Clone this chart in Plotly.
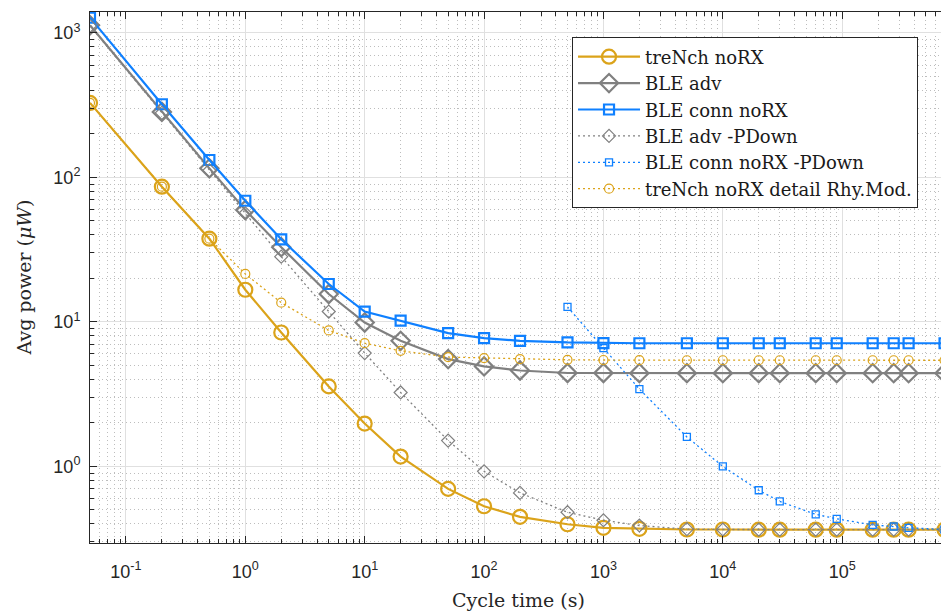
import math
import plotly.graph_objects as go

# ---- data ----
cycle_time = [0.05, 0.2, 0.5, 1, 2, 5, 10, 20, 50, 100, 200, 500, 1000, 2000,
              5000, 1e4, 2e4, 3e4, 6e4, 9e4, 1.8e5, 2.7e5, 3.6e5, 7.2e5]

trench_norx = [328, 86.3, 37.7, 16.7, 8.45, 3.58, 1.98, 1.17, 0.699, 0.53, 0.448,
               0.398, 0.376, 0.370, 0.366, 0.366, 0.365, 0.365, 0.365, 0.365,
               0.365, 0.365, 0.365, 0.365]
ble_adv = [1130, 284, 115.6, 59.5, 32.9, 15.6, 9.91, 7.40, 5.53, 4.92, 4.61,
           4.43, 4.43, 4.42, 4.42, 4.42, 4.42, 4.42, 4.42, 4.42, 4.42, 4.42,
           4.42, 4.42]
ble_conn_norx = [1277, 321, 132, 69.0, 37.3, 18.3, 11.8, 10.2, 8.36, 7.72, 7.40,
                 7.21, 7.13, 7.12, 7.12, 7.12, 7.12, 7.12, 7.12, 7.12, 7.12,
                 7.12, 7.12, 7.12]
ble_adv_pdown = [1120, 280, 112, 56.5, 28.3, 11.8, 6.09, 3.25, 1.51, 0.925,
                 0.656, 0.482, 0.424, 0.390, 0.368, 0.366, 0.365, 0.365, 0.365,
                 0.365, 0.365, 0.365, 0.365, 0.365]
conn_pdown_time = [500, 1000, 2000, 5000, 1e4, 2e4, 3e4, 6e4, 9e4, 1.8e5,
                   2.7e5, 3.6e5, 7.2e5]
ble_conn_norx_pdown = [12.7, 6.59, 3.43, 1.60, 1.0, 0.684, 0.572, 0.466, 0.434,
                       0.394, 0.384, 0.376, 0.366]
trench_detail = [328, 86.3, 37.7, 21.5, 13.6, 8.73, 7.13, 6.31, 5.71, 5.62, 5.53,
                 5.47, 5.45, 5.44, 5.43, 5.43, 5.43, 5.43, 5.43, 5.43, 5.43,
                 5.43, 5.43, 5.43]

x_tick_vals = [0.1, 1, 10, 100, 1000, 1e4, 1e5]
x_tick_text = ["10<sup>-1</sup>", "10<sup>0</sup>", "10<sup>1</sup>", "10<sup>2</sup>",
               "10<sup>3</sup>", "10<sup>4</sup>", "10<sup>5</sup>"]
y_tick_vals = [1, 10, 100, 1000]
y_tick_text = ["10<sup>0</sup>", "10<sup>1</sup>", "10<sup>2</sup>", "10<sup>3</sup>"]

GOLD = "#DBA31A"
GRAY = "#808080"
BLUE = "#0F80FF"
DOT = "2px,3px"

fig = go.Figure()


def add(name, x, y, color, symbol, size, lw, dash, mlw):
    fig.add_trace(go.Scatter(
        x=x, y=y, name=name, mode="lines+markers", legendgroup=name,
        line=dict(color=color, width=lw, dash=dash),
        marker=dict(symbol=symbol, size=size, color=color,
                    line=dict(color=color, width=mlw)),
    ))


add("treNch noRX", cycle_time, trench_norx, GOLD, "circle-open", 14, 2.2, "solid", 2.2)
add("BLE adv", cycle_time, ble_adv, GRAY, "diamond-open", 14, 2.2, "solid", 2.2)
add("BLE conn noRX", cycle_time, ble_conn_norx, BLUE, "square-open", 10, 2.2, "solid", 2.2)
add("BLE adv -PDown", cycle_time, ble_adv_pdown, GRAY, "diamond-open", 10, 1.3, DOT, 1.2)
add("BLE conn noRX -PDown", conn_pdown_time, ble_conn_norx_pdown, BLUE, "square-open", 7, 1.3, DOT, 1.3)
add("treNch noRX detail Rhy.Mod.", cycle_time, trench_detail, GOLD, "circle-open", 9, 1.3, DOT, 1.2)


def minor_vals(lo, hi):
    vals = []
    for k in range(lo, hi + 1):
        for d in range(2, 10):
            vals.append(d * 10 ** k)
    return vals


AXC = "#262626"
tickfont = dict(family="Liberation Sans", size=18, color="#262626")

fig.update_xaxes(
    type="log", range=[math.log10(0.05), 5.8277],
    tickmode="array", tickvals=x_tick_vals, ticktext=x_tick_text,
    ticks="inside", ticklen=7, tickcolor=AXC, tickwidth=1,
    showline=True, linecolor=AXC, linewidth=1, mirror="ticks",
    showgrid=True, gridcolor="#E0E0E0", gridwidth=1,
    tickfont=tickfont, zeroline=False, ticklabelstandoff=12,
    minor=dict(tickmode="array", tickvals=minor_vals(-2, 6), ticks="inside", ticklen=4,
               tickcolor=AXC, showgrid=True, gridcolor="#BDBDBD", griddash="1px,3px",
               gridwidth=1),
)
fig.update_yaxes(
    type="log", range=[-0.530, 3.145],
    tickmode="array", tickvals=y_tick_vals, ticktext=y_tick_text,
    ticks="inside", ticklen=7, tickcolor=AXC, tickwidth=1,
    showline=True, linecolor=AXC, linewidth=1, mirror=False,
    showgrid=True, gridcolor="#E0E0E0", gridwidth=1,
    tickfont=tickfont, zeroline=False, ticklabelstandoff=5,
    minor=dict(tickmode="array", tickvals=minor_vals(-1, 3), ticks="inside", ticklen=4,
               tickcolor=AXC, showgrid=True, gridcolor="#BDBDBD", griddash="1px,3px",
               gridwidth=1),
)

fig.update_layout(
    width=941, height=613,
    margin=dict(l=90, r=0, t=11.7, b=69.5, autoexpand=False),
    paper_bgcolor="white", plot_bgcolor="white",
    font=dict(family="DejaVu Serif", color="#262626"),
    showlegend=True,
    legend=dict(
        x=0.973, y=0.952, xanchor="right", yanchor="top",
        bgcolor="white", bordercolor=AXC, borderwidth=1,
        font=dict(family="DejaVu Serif", size=18, color="#1a1a1a"),
        traceorder="grouped", tracegroupgap=0, itemwidth=62,
    ),
    annotations=[
        dict(text="Cycle time (s)", xref="paper", yref="paper", x=0.503, y=-0.108,
             xanchor="center", yanchor="middle", showarrow=False,
             font=dict(family="DejaVu Serif", size=19, color="#262626")),
        dict(text="Avg power (<i>μW</i>)", xref="paper", yref="paper", x=-0.0787, y=0.5,
             xanchor="center", yanchor="middle", showarrow=False, textangle=-90,
             font=dict(family="DejaVu Serif", size=19, color="#262626")),
    ],
)

# remove the default page margin so the figure fills the 941x613 window exactly
fig.write_html(
    "out.html",
    config={"displayModeBar": False},
    post_script="document.body.style.margin='0';document.body.style.overflow='hidden';",
)
